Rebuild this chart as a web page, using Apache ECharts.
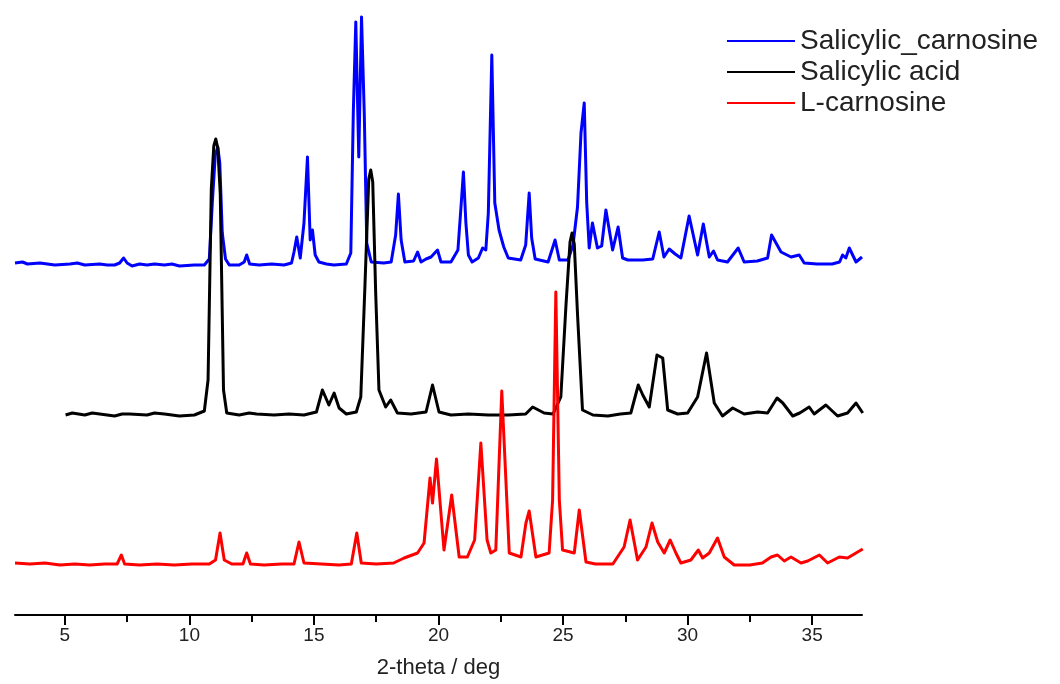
<!DOCTYPE html>
<html>
<head>
<meta charset="utf-8">
<title>XRD</title>
<script src="https://cdn.jsdelivr.net/npm/echarts@6.0.0/dist/echarts.min.js"></script>
<style>
html, body { margin: 0; padding: 0; background: #fff; }
#main { width: 1060px; height: 684px; }
</style>
</head>
<body>
<div id="main"></div>
<script>
// 图例名称
var seriesNames = ['Salicylic_carnosine', 'Salicylic acid', 'L-carnosine'];
var seriesColors = ['#0000ff', '#000000', '#ff0000'];
// 每条曲线的垂直偏移 (a.u.)
var offsets = [352, 201, 51];

// x轴刻度
var majorTicks = [5, 10, 15, 20, 25, 30, 35];
var minorTicks = [7.5, 12.5, 17.5, 22.5, 27.5, 32.5];

// Salicylic_carnosine: [2theta, intensity above baseline]
var salCarnosine = [
	[3.0, 0], [3.3, 1], [3.5, -1], [4.0, 0], [4.3, -1], [4.6, -2], [5.2, -1], [5.5, 0], [5.8, -2], [6.4, -1], [6.7, -2], [7.0, -2],
	[7.2, 0], [7.36, 5], [7.5, 0], [7.7, -3], [8.0, -1], [8.3, -2], [8.6, -1], [9.0, -2], [9.3, -1], [9.6, -3], [10.2, -2],
	[10.6, -2], [10.8, 4], [10.92, 60], [11.04, 108], [11.14, 116], [11.22, 100], [11.32, 30], [11.45, 4], [11.6, -2],
	[12.0, -2], [12.2, 1], [12.3, 8], [12.42, -1], [12.8, -2], [13.3, -1], [13.8, -2],
	[14.1, 0], [14.2, 11], [14.31, 26], [14.45, 5], [14.6, 40], [14.74, 106], [14.85, 23],
	[14.94, 33], [15.05, 8], [15.2, 1], [15.5, -1], [15.8, -2], [16.3, -1], [16.48, 10], [16.58, 150],
	[16.68, 241], [16.8, 106], [16.91, 246], [17.02, 150], [17.12, 20], [17.3, 1], [17.8, 0],
	[18.1, 1], [18.28, 28], [18.39, 69], [18.5, 23], [18.65, 1], [19.0, 2], [19.16, 11],
	[19.3, 1], [19.5, 4], [19.7, 6], [19.96, 13], [20.1, 1], [20.5, 1], [20.78, 13], [20.9, 55],
	[21.0, 91], [21.1, 40], [21.2, 8], [21.35, 1], [21.6, 5], [21.77, 15], [21.9, 13], [22.0, 50],
	[22.14, 208], [22.26, 60], [22.43, 33], [22.62, 16], [22.8, 5], [23.3, 3], [23.5, 18],
	[23.64, 70], [23.74, 25], [23.88, 4], [24.4, 1], [24.68, 23], [24.85, 3], [25.2, 3],
	[25.4, 18], [25.58, 56], [25.72, 130], [25.85, 160], [25.95, 60], [26.05, 15], [26.18, 40], [26.38, 15], [26.55, 17],
	[26.72, 53], [26.99, 13], [27.21, 36], [27.39, 5], [27.6, 3], [28.2, 3], [28.6, 4],
	[28.86, 31], [29.05, 6], [29.26, 14], [29.5, 9], [29.73, 5], [30.06, 47], [30.4, 8],
	[30.63, 39], [30.87, 6], [31.04, 12], [31.2, 3], [31.6, 1], [32.03, 15], [32.27, 1],
	[32.8, 2], [33.21, 5], [33.37, 28], [33.75, 11], [34.15, 6], [34.48, 8], [34.68, 0],
	[35.2, -1], [35.8, -1], [36.1, 1], [36.22, 8], [36.35, 5], [36.49, 15], [36.76, 1], [37.0, 6]
];

// Salicylic acid
var salAcid = [
	[5.03, -1], [5.3, 1], [5.8, -1], [6.1, 1], [6.4, 0], [7.0, -2], [7.3, 0], [7.6, 0], [8.3, -1], [8.6, 1], [9.0, 0],
	[9.6, -2], [10.2, -1], [10.6, 3], [10.75, 34], [10.88, 225], [10.98, 268], [11.06, 275],
	[11.14, 266], [11.24, 220], [11.37, 24], [11.5, 1], [12.0, -1], [12.4, 1], [12.7, 0], [13.4, -1],
	[14.0, 0], [14.6, -1], [15.1, 2], [15.34, 24], [15.6, 9], [15.81, 21], [16.01, 6],
	[16.3, 0], [16.7, 2], [16.88, 17], [17.05, 130], [17.2, 235], [17.28, 244], [17.36, 232],
	[17.48, 120], [17.61, 24], [17.88, 7], [18.08, 14], [18.35, 1], [18.9, 0], [19.5, 2],
	[19.76, 29], [20.02, 2], [20.5, -1], [21.2, 0], [22.0, -1], [22.8, -1], [23.5, 0],
	[23.78, 7], [24.24, 1], [24.6, 0], [24.91, 17], [25.12, 110], [25.28, 172], [25.36, 181],
	[25.45, 170], [25.58, 100], [25.78, 4], [26.2, -1], [26.8, -2], [27.3, 0], [27.72, 1],
	[28.02, 29], [28.2, 19], [28.46, 7], [28.77, 59], [29.0, 56], [29.2, 4], [29.6, 0],
	[30.0, 1], [30.4, 17], [30.76, 61], [31.07, 11], [31.4, -2], [31.81, 6], [32.27, 0],
	[32.81, 2], [33.21, 1], [33.59, 16], [33.82, 11], [34.22, -2], [34.5, 1], [34.88, 7],
	[35.08, 0], [35.55, 9], [36.02, -2], [36.42, 1], [36.76, 11], [37.03, 1]
];

// L-carnosine
var lCarnosine = [
	[3.0, 1], [3.6, 0], [4.2, 1], [4.8, -1], [5.4, 0], [6.0, -1], [6.6, 0], [7.1, 0],
	[7.27, 9], [7.4, 0], [8.0, -1], [8.7, 0], [9.4, -1], [10.1, 0], [10.8, 0], [11.05, 4],
	[11.23, 31], [11.4, 4], [11.7, 0], [12.15, 0], [12.3, 11], [12.45, 0], [13.0, -1],
	[13.7, 0], [14.2, 0], [14.4, 22], [14.6, 1], [15.3, 0], [16.0, -1], [16.5, 0],
	[16.72, 31], [16.9, 1], [17.5, 0], [18.2, 1], [18.62, 6], [19.16, 11], [19.42, 21],
	[19.66, 86], [19.76, 61], [19.92, 105], [20.22, 14], [20.53, 69], [20.83, 7], [21.16, 7],
	[21.45, 24], [21.7, 121], [21.95, 24], [22.1, 11], [22.3, 14], [22.54, 173], [22.84, 11],
	[23.31, 7], [23.51, 41], [23.64, 53], [23.91, 7], [24.44, 11], [24.58, 64], [24.71, 272],
	[24.85, 64], [24.98, 14], [25.45, 11], [25.65, 54], [25.92, 2], [26.3, 0], [27.0, 0],
	[27.45, 17], [27.69, 44], [27.99, 4], [28.33, 17], [28.57, 41], [28.8, 22], [29.06, 11],
	[29.3, 24], [29.53, 11], [29.73, 1], [30.13, 4], [30.43, 14], [30.6, 6], [30.87, 11],
	[31.2, 26], [31.47, 7], [31.87, -1], [32.5, -1], [33.0, 1], [33.35, 7], [33.61, 9],
	[33.88, 3], [34.15, 7], [34.55, 1], [34.82, 3], [35.29, 9], [35.62, 1], [36.09, 7],
	[36.42, 6], [37.03, 15]
];

var rawData = [salCarnosine, salAcid, lCarnosine];

function shift(arr, off) {
	var out = [];
	for (var i = 0; i < arr.length; i++) {
		out.push([arr[i][0], arr[i][1] + off]);
	}
	return out;
}

var myChart = echarts.init(document.getElementById('main'));

var series = [];
for (var k = 0; k < rawData.length; k++) {
	series.push({
		name: seriesNames[k],
		type: 'line',
		xAxisIndex: 0,
		data: shift(rawData[k], offsets[k]),
		showSymbol: false,
		symbol: 'none',
		smooth: false,
		lineStyle: { color: seriesColors[k], width: 3, join: 'round' },
		itemStyle: { color: seriesColors[k] },
		animation: false
	});
}

var option = {
	backgroundColor: '#ffffff',
	animation: false,
	textStyle: { fontFamily: '"Liberation Sans", Arial, sans-serif' },
	legend: {
		orient: 'vertical',
		left: 727,
		top: 27,
		padding: 0,
		itemWidth: 68,
		itemHeight: 2,
		itemGap: 3,
		icon: 'rect',
		data: seriesNames,
		textStyle: { fontSize: 28, color: '#222', lineHeight: 28 }
	},
	grid: { left: 15, right: 198, top: 0, bottom: 69 },
	xAxis: [
		{
			type: 'value',
			min: 3,
			max: 37,
			name: '2-theta / deg',
			nameLocation: 'middle',
			nameGap: 42,
			nameTextStyle: { fontSize: 22, color: '#222' },
			axisLine: { show: true, onZero: false, lineStyle: { color: '#000', width: 2 } },
			axisTick: { show: true, length: 10, customValues: majorTicks, lineStyle: { color: '#000', width: 2 } },
			axisLabel: { show: true, customValues: majorTicks, margin: 11, fontSize: 19, color: '#222' },
			splitLine: { show: false }
		},
		{
			type: 'value',
			min: 3,
			max: 37,
			position: 'bottom',
			axisLine: { show: false, onZero: false },
			axisTick: { show: true, length: 7, customValues: minorTicks, lineStyle: { color: '#000', width: 2 } },
			axisLabel: { show: false },
			splitLine: { show: false }
		}
	],
	yAxis: {
		type: 'value',
		min: 0,
		max: 615,
		show: false,
		splitLine: { show: false }
	},
	series: series
};

myChart.setOption(option);
</script>
</body>
</html>
